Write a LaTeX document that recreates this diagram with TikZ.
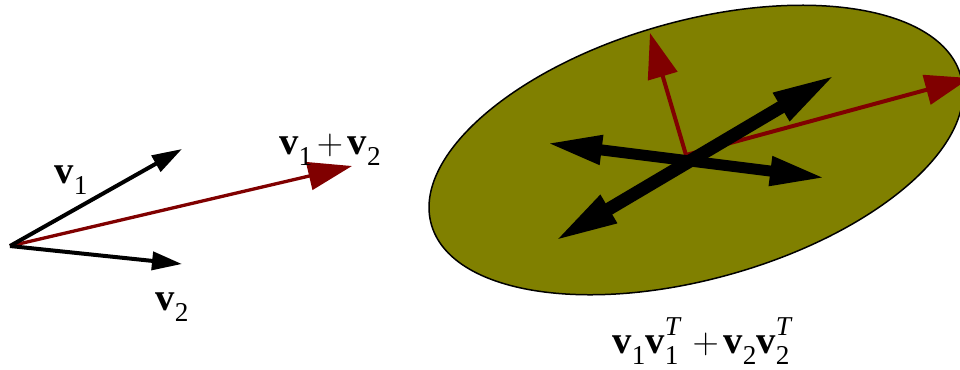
\documentclass[tikz,border=0pt]{standalone}
\usepackage{fontspec}
\setmainfont{Liberation Serif}
\usepackage{xcolor}
\usepackage{tikz}
\usetikzlibrary{arrows.meta, shapes.geometric}

\definecolor{vecred}{RGB}{128,0,0}
\definecolor{ellolive}{RGB}{128,128,0}

\newcommand{\smallidx}{\fontsize{15.5}{16}\selectfont}
\newcommand{\bvec}[1]{\textbf{v}\raisebox{-0.28em}{\smallidx #1}}
\newcommand{\bvecT}[1]{\textbf{v}\rlap{\raisebox{0.48em}{\smallidx\itshape T}}\raisebox{-0.28em}{\smallidx #1}}
\newcommand{\plussign}{\hspace{0.12em}$+$\hspace{0.12em}}

\begin{document}
\begin{tikzpicture}[
  x=0.02cm, y=-0.02cm,
  lbl/.style={inner sep=0pt, font=\fontsize{22}{26}\selectfont},
  basevec/.style={line width=0.08cm, -{Triangle[length=0.6cm, width=0.36cm]}},
  sumvec/.style={draw=vecred, line width=0.066cm, -{Triangle[length=0.88cm, width=0.56cm]}},
  eigvec/.style={draw=vecred, line width=0.08cm, -{Triangle[length=0.9cm, width=0.6cm]}},
  steeparr/.style={line width=0.26cm, {Triangle[length=1.3cm, width=0.58cm]}-{Triangle[length=1.3cm, width=0.58cm]}},
  flatarr/.style={line width=0.22cm, {Triangle[length=1.12cm, width=0.54cm]}-{Triangle[length=1.12cm, width=0.54cm]}},
  blob/.style={ellipse, draw, line width=0.03cm, fill=ellolive, inner sep=0pt, outer sep=0pt},
]
\useasboundingbox (0,0) rectangle (960,369);

% Left: the two vectors and their sum
\coordinate (o) at (10,246);
\coordinate (v1) at (182,149);
\coordinate (v2) at (182,264);
\coordinate (vs) at (352,166);

\draw[sumvec] (o) -- (vs);
\draw[basevec] (o) -- (v1);
\draw[basevec] (o) -- (v2);

\node[lbl] (l1) at (71,180) {\bvec{1}};
\node[lbl] (l2) at (172,307) {\bvec{2}};
\node[lbl] (ls) at (330,150) {\bvec{1}\plussign\bvec{2}};

% Right: the ellipse of the outer product sum
\node[blob, minimum width=11cm, minimum height=5.16cm, rotate=15.7] (ell) at (696,150) {};

\coordinate (c) at (686,155);
\coordinate (eup) at (650,33);
\coordinate (eright) at (970,78);
\draw[eigvec] (c) -- (eup);
\draw[eigvec] (c) -- (eright);

\coordinate (sa) at (553,242);
\coordinate (sb) at (837,74);
\coordinate (fa) at (546,143);
\coordinate (fb) at (826,178);
\draw[steeparr] (sa) -- (sb);
\draw[flatarr] (fa) -- (fb);

\node[lbl] (lo) at (701,341) {\bvec{1}\bvecT{1}\hspace{0.25em}\plussign\bvec{2}\bvecT{2}\hspace{0.2em}};

\end{tikzpicture}
\end{document}
